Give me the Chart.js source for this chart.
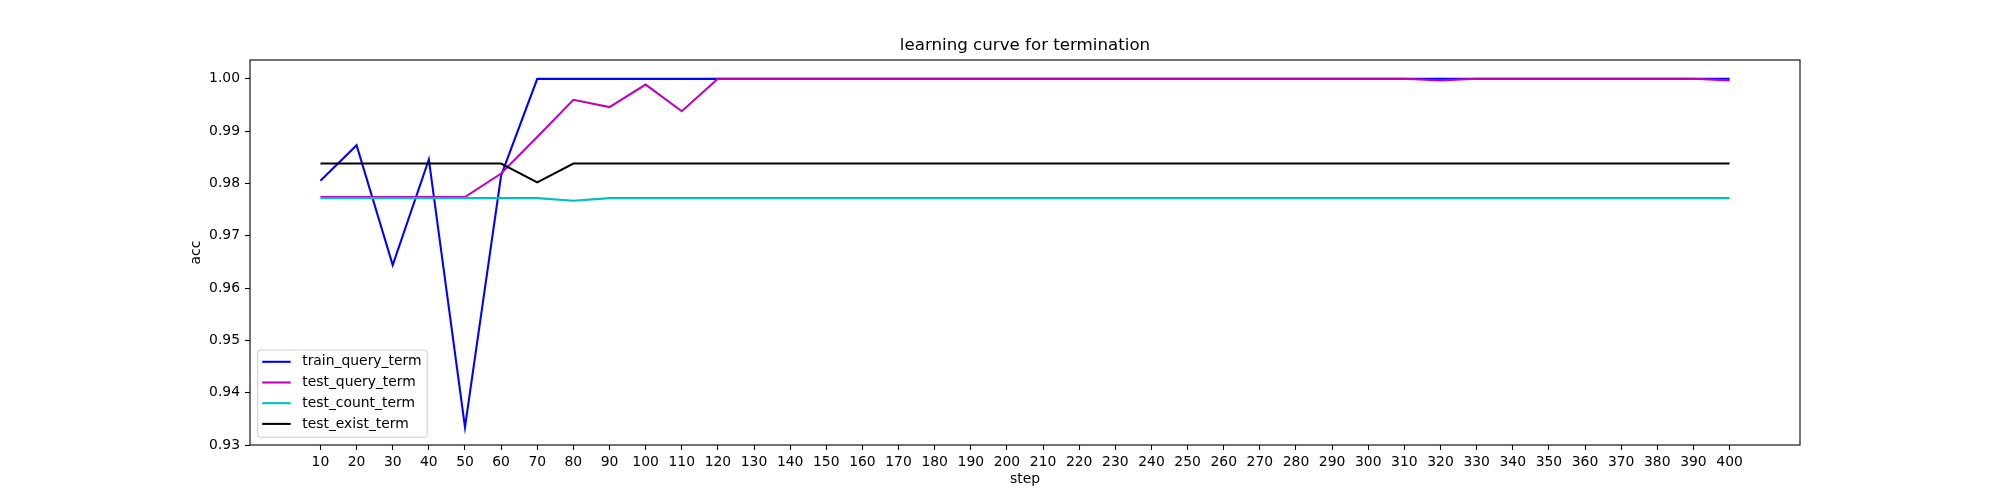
<!DOCTYPE html>
<html>
<head>
<meta charset="utf-8">
<script src="https://cdn.jsdelivr.net/npm/chart.js@4.4.1/dist/chart.umd.min.js"></script>
<style>
  html, body { margin: 0; padding: 0; background: #ffffff; }
  #wrap { width: 2000px; height: 500px; }
</style>
</head>
<body>
<div id="wrap"><canvas id="c" width="2000" height="500"></canvas></div>
<script>
const steps = [10,20,30,40,50,60,70,80,90,100,110,120,130,140,150,160,170,180,190,200,210,220,230,240,250,260,270,280,290,300,310,320,330,340,350,360,370,380,390,400];

const trainQueryTerm = [
  0.9805,0.9873,0.9644,0.9846,0.9334,0.9815,1.0,1.0,1.0,1.0,
  1.0,1.0,1.0,1.0,1.0,1.0,1.0,1.0,1.0,1.0,
  1.0,1.0,1.0,1.0,1.0,1.0,1.0,1.0,1.0,1.0,
  1.0,1.0,1.0,1.0,1.0,1.0,1.0,1.0,1.0,1.0
];
const testQueryTerm = [
  0.9774,0.9774,0.9774,0.9774,0.9774,0.9819,0.9889,0.9960,0.9946,0.9989,
  0.9938,1.0,1.0,1.0,1.0,1.0,1.0,1.0,1.0,1.0,
  1.0,1.0,1.0,1.0,1.0,1.0,1.0,1.0,1.0,1.0,
  1.0,0.9997,1.0,1.0,1.0,1.0,1.0,1.0,1.0,0.9997
];
const testCountTerm = [
  0.9772,0.9772,0.9772,0.9772,0.9772,0.9772,0.9772,0.9767,0.9772,0.9772,
  0.9772,0.9772,0.9772,0.9772,0.9772,0.9772,0.9772,0.9772,0.9772,0.9772,
  0.9772,0.9772,0.9772,0.9772,0.9772,0.9772,0.9772,0.9772,0.9772,0.9772,
  0.9772,0.9772,0.9772,0.9772,0.9772,0.9772,0.9772,0.9772,0.9772,0.9772
];
const testExistTerm = [
  0.9838,0.9838,0.9838,0.9838,0.9838,0.9838,0.9802,0.9838,0.9838,0.9838,
  0.9838,0.9838,0.9838,0.9838,0.9838,0.9838,0.9838,0.9838,0.9838,0.9838,
  0.9838,0.9838,0.9838,0.9838,0.9838,0.9838,0.9838,0.9838,0.9838,0.9838,
  0.9838,0.9838,0.9838,0.9838,0.9838,0.9838,0.9838,0.9838,0.9838,0.9838
];

const seriesNames = ['train_query_term','test_query_term','test_count_term','test_exist_term'];
const yTickValues = [0.93,0.94,0.95,0.96,0.97,0.98,0.99,1.00];
const titleText = 'learning curve for termination';
const xLabel = 'step';
const yLabel = 'acc';

const colors = ['#0000ff','#bf00bf','#00bfbf','#000000'];
const FONT = 'DejaVu Sans';
const TICK_PX = 13.9;

function pts(vals){ return steps.map((s,i)=>({x:s, y:vals[i]})); }

const seriesValues = [trainQueryTerm, testQueryTerm, testCountTerm, testExistTerm];
const datasets = seriesNames.map((name,i)=>({
  label: name,
  data: pts(seriesValues[i]),
  borderColor: colors[i],
  backgroundColor: colors[i],
  borderWidth: 2.08,
  pointRadius: 0,
  pointHoverRadius: 0,
  tension: 0,
  fill: false,
  order: 4 - i
}));

const framePlugin = {
  id: 'frame',
  afterDatasetsDraw(chart) {
    const {ctx, chartArea: a} = chart;
    ctx.save();
    ctx.strokeStyle = '#000';
    ctx.lineWidth = 1.1;
    ctx.strokeRect(a.left, a.top, a.right - a.left, a.bottom - a.top);
    ctx.restore();
  }
};

const legendPlugin = {
  id: 'mplLegend',
  afterDraw(chart) {
    const ctx = chart.ctx;
    const a = chart.chartArea;
    const x0 = a.left + 7.7, y0 = 350, w = 169.5, h = 87.3, r = 2.8;
    ctx.save();
    ctx.beginPath();
    ctx.moveTo(x0 + r, y0);
    ctx.lineTo(x0 + w - r, y0);
    ctx.arcTo(x0 + w, y0, x0 + w, y0 + r, r);
    ctx.lineTo(x0 + w, y0 + h - r);
    ctx.arcTo(x0 + w, y0 + h, x0 + w - r, y0 + h, r);
    ctx.lineTo(x0 + r, y0 + h);
    ctx.arcTo(x0, y0 + h, x0, y0 + h - r, r);
    ctx.lineTo(x0, y0 + r);
    ctx.arcTo(x0, y0, x0 + r, y0, r);
    ctx.closePath();
    ctx.fillStyle = 'rgba(255,255,255,0.8)';
    ctx.fill();
    ctx.strokeStyle = '#cccccc';
    ctx.lineWidth = 1;
    ctx.stroke();
    ctx.font = TICK_PX + 'px "' + FONT + '"';
    ctx.textBaseline = 'middle';
    ctx.textAlign = 'left';
    chart.data.datasets.forEach((ds, i) => {
      const yy = y0 + 11.8 + i * 20.7;
      ctx.strokeStyle = ds.borderColor;
      ctx.lineWidth = 2.08;
      ctx.beginPath();
      ctx.moveTo(x0 + 4.5, yy);
      ctx.lineTo(x0 + 33, yy);
      ctx.stroke();
      ctx.fillStyle = '#000';
      ctx.fillText(ds.label, x0 + 44.5, yy);
    });
    ctx.restore();
  }
};

new Chart(document.getElementById('c'), {
  type: 'line',
  data: { datasets },
  options: {
    responsive: false,
    animation: false,
    devicePixelRatio: 1,
    events: [],
    layout: { padding: { left: 180, right: 200, top: 0, bottom: 0 } },
    plugins: {
      legend: { display: false },
      tooltip: { enabled: false },
      title: {
        display: true,
        text: titleText,
        fullSize: false,
        color: '#000',
        font: { family: FONT, size: 16.67, weight: 'normal', lineHeight: 1.2 },
        padding: { top: 36, bottom: 4 }
      }
    },
    scales: {
      x: {
        type: 'linear',
        min: -9.5,
        max: 419.5,
        afterBuildTicks: (scale) => { scale.ticks = steps.map(v => ({ value: v })); },
        afterFit: (scale) => { scale.height = 55; },
        ticks: {
          autoSkip: false, maxRotation: 0, minRotation: 0,
          color: '#000', padding: 4,
          font: { family: FONT, size: TICK_PX },
          callback: (v) => String(v)
        },
        grid: { display: true, drawOnChartArea: false, drawTicks: true, tickLength: 5, tickColor: '#000', tickWidth: 1.1 },
        border: { display: false },
        title: {
          display: true, text: xLabel, color: '#000',
          font: { family: FONT, size: TICK_PX },
          padding: { top: 0, bottom: 12 }
        }
      },
      y: {
        type: 'linear',
        min: 0.93,
        max: 1.0036,
        afterBuildTicks: (scale) => { scale.ticks = yTickValues.map(v => ({ value: v })); },
        afterFit: (scale) => { scale.width = 70; },
        ticks: {
          autoSkip: false,
          color: '#000', padding: 5,
          font: { family: FONT, size: TICK_PX },
          callback: (v) => Number(v).toFixed(2)
        },
        grid: { display: true, drawOnChartArea: false, drawTicks: true, tickLength: 5, tickColor: '#000', tickWidth: 1.1 },
        border: { display: false },
        title: {
          display: true, text: yLabel, color: '#000',
          font: { family: FONT, size: TICK_PX },
          padding: { top: 8.4, bottom: 0 }
        }
      }
    }
  },
  plugins: [framePlugin, legendPlugin]
});
</script>
</body>
</html>
